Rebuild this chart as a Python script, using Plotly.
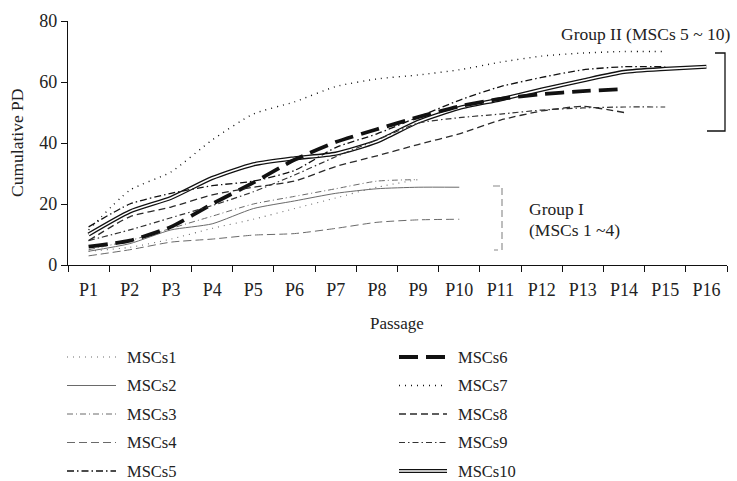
import plotly.graph_objects as go

# ---------------- data ----------------
passages = ["P1", "P2", "P3", "P4", "P5", "P6", "P7", "P8", "P9", "P10",
            "P11", "P12", "P13", "P14", "P15", "P16"]

msc1 = [4.5, 5.8, 8.5, 12, 15, 18.5, 22, 25.5, 28]
msc2 = [4.5, 7, 11.5, 13.5, 18.5, 21, 23.5, 25, 25.5, 25.5]
msc3 = [5, 8, 12, 16, 20, 22.5, 25, 27.5, 28]
msc4 = [3, 5, 7.5, 8.5, 9.8, 10.3, 12, 14, 14.8, 15]
msc5 = [12.5, 20, 23.5, 26, 27.5, 31, 38.5, 43, 48.5, 54, 58.5, 61.5, 64, 65, 65]
msc6 = [6, 8, 12.5, 20, 27, 34.5, 40.3, 44.5, 48.5, 52, 54.5, 56, 57, 57.7]
msc7 = [11.5, 24.5, 30.5, 41, 49.5, 53.5, 58.5, 61, 62.3, 64, 66.5, 68.5, 69.5, 70, 70]
msc8 = [8, 15.8, 19, 23, 25.5, 27.5, 32.3, 35.8, 39.5, 43, 47.5, 50.5, 52, 50]
msc9 = [8, 11.5, 15.5, 19.5, 24, 29.5, 35.5, 41, 46.5, 48.3, 49.5, 50.8, 51.5, 51.8, 51.8]
msc10 = [10, 17.5, 22, 28.5, 33, 35, 36.5, 40.5, 47, 51.5, 54.3, 57.5, 60.5, 63.3, 64.3, 65]

y_ticks = [0, 20, 40, 60, 80]

FONT = "Liberation Serif"
GRAY = "#6a6a6a"
BLACK = "#111111"
TXT = "#222222"

# style per series: (name, values, color, width, dash)
styles = [
    ("MSCs1", msc1, GRAY, 1.1, "1px,5px"),
    ("MSCs2", msc2, GRAY, 1.0, "solid"),
    ("MSCs3", msc3, GRAY, 1.0, "6px,3px,1px,3px"),
    ("MSCs4", msc4, GRAY, 1.0, "8px,4px"),
    ("MSCs5", msc5, BLACK, 1.3, "7px,3px,1.5px,3px"),
    ("MSCs6", msc6, BLACK, 3.8, "19px,8px"),
    ("MSCs7", msc7, BLACK, 1.4, "1px,5px"),
    ("MSCs8", msc8, "#2a2a2a", 1.3, "7px,4px"),
    ("MSCs9", msc9, "#333333", 1.2, "6px,3px,1.5px,3px"),
]

fig = go.Figure()

# group I
for name, vals, col, w, dash in styles[:4]:
    fig.add_trace(go.Scatter(x=passages[:len(vals)], y=vals, mode="lines", name=name,
                             line=dict(color=col, width=w, dash=dash, shape="spline", smoothing=0.6),
                             showlegend=False, hoverinfo="skip"))

# MSCs10 double line (black wide + white core)
fig.add_trace(go.Scatter(x=passages[:len(msc10)], y=msc10, mode="lines", name="MSCs10",
                         line=dict(color=BLACK, width=4.2, shape="spline", smoothing=0.6),
                         showlegend=False, hoverinfo="skip"))
fig.add_trace(go.Scatter(x=passages[:len(msc10)], y=msc10, mode="lines", name="MSCs10 core",
                         line=dict(color="white", width=1.6, shape="spline", smoothing=0.6),
                         showlegend=False, hoverinfo="skip"))

# group II
for name, vals, col, w, dash in styles[4:]:
    fig.add_trace(go.Scatter(x=passages[:len(vals)], y=vals, mode="lines", name=name,
                             line=dict(color=col, width=w, dash=dash, shape="spline", smoothing=0.6),
                             showlegend=False, hoverinfo="skip"))

# ---------------- layout helpers (pixel -> paper) ----------------
L, R, T, B = 68, 727, 21, 265
def px(x):
    return (x - L) / (R - L)
def py(y):
    return (B - y) / (B - T)

shapes = []
annotations = []

# legend built from shapes + text
left_rows = ["MSCs1", "MSCs2", "MSCs3", "MSCs4", "MSCs5"]
right_rows = ["MSCs6", "MSCs7", "MSCs8", "MSCs9", "MSCs10"]
row_y = [357, 385.5, 414, 442.5, 471]
style_map = {s[0]: s for s in styles}

def legend_item(name, x0, x1, xt, y):
    if name == "MSCs10":
        shapes.append(dict(type="line", xref="paper", yref="paper", x0=px(x0), x1=px(x1),
                           y0=py(y), y1=py(y), line=dict(color=BLACK, width=4.2)))
        shapes.append(dict(type="line", xref="paper", yref="paper", x0=px(x0), x1=px(x1),
                           y0=py(y), y1=py(y), line=dict(color="white", width=1.6)))
    else:
        _, _, col, w, dash = style_map[name]
        shapes.append(dict(type="line", xref="paper", yref="paper", x0=px(x0), x1=px(x1),
                           y0=py(y), y1=py(y), line=dict(color=col, width=w, dash=dash)))
    annotations.append(dict(text=name, xref="paper", yref="paper", x=px(xt), y=py(y),
                            xanchor="left", yanchor="middle", showarrow=False,
                            font=dict(family=FONT, size=16.5, color=TXT)))

for n, y in zip(left_rows, row_y):
    legend_item(n, 67, 116, 125, y)
for n, y in zip(right_rows, row_y):
    legend_item(n, 399, 447, 456, y)

# group brackets
shapes.append(dict(type="path", xref="paper", yref="paper",
                   path=f"M{px(715)},{py(53)} L{px(725)},{py(53)} L{px(725)},{py(131)} L{px(707)},{py(131)}",
                   line=dict(color=BLACK, width=1.3)))
shapes.append(dict(type="path", xref="paper", yref="paper",
                   path=f"M{px(493)},{py(186)} L{px(502)},{py(186)} L{px(502)},{py(250)} L{px(494)},{py(250)}",
                   line=dict(color="#888", width=1.1, dash="7px,4px")))

# group texts
annotations.append(dict(text="Group II (MSCs 5 ~ 10)", xref="paper", yref="paper", x=px(646), y=py(34),
                        xanchor="center", yanchor="middle", showarrow=False,
                        font=dict(family=FONT, size=17.5, color=TXT)))
annotations.append(dict(text="Group I", xref="paper", yref="paper", x=px(527), y=py(209),
                        xanchor="left", yanchor="middle", showarrow=False,
                        font=dict(family=FONT, size=17.5, color=TXT)))
annotations.append(dict(text="(MSCs 1 ~4)", xref="paper", yref="paper", x=px(527), y=py(230),
                        xanchor="left", yanchor="middle", showarrow=False,
                        font=dict(family=FONT, size=17.5, color=TXT)))

# axis titles
annotations.append(dict(text="Cumulative PD", xref="paper", yref="paper", x=px(17), y=py(143),
                        xanchor="center", yanchor="middle", textangle=-90, showarrow=False,
                        font=dict(family=FONT, size=17.5, color=TXT)))
annotations.append(dict(text="Passage", xref="paper", yref="paper", x=px(397), y=py(323),
                        xanchor="center", yanchor="middle", showarrow=False,
                        font=dict(family=FONT, size=17, color=TXT)))

fig.update_layout(
    width=737, height=481,
    margin=dict(l=L, r=737 - R, t=T, b=481 - B, pad=0),
    paper_bgcolor="white", plot_bgcolor="white",
    showlegend=False,
    shapes=shapes, annotations=annotations,
    font=dict(family=FONT, size=17, color=TXT),
    xaxis=dict(type="category", categoryorder="array", categoryarray=passages,
               tickvals=passages, range=[-0.5, 15.5], tickson="boundaries",
               ticks="outside", ticklen=6, tickwidth=1.2, tickcolor=BLACK,
               ticklabelstandoff=8,
               showline=True, linecolor=BLACK, linewidth=1.3, showgrid=False, zeroline=False,
               tickfont=dict(family=FONT, size=18, color=TXT), fixedrange=True),
    yaxis=dict(range=[0, 80], tickvals=y_ticks, ticks="outside", ticklen=6, tickwidth=1.2,
               tickcolor=BLACK, showline=True, linecolor=BLACK, linewidth=1.3,
               showgrid=False, zeroline=False,
               tickfont=dict(family=FONT, size=18, color=TXT), fixedrange=True),
)

fig.write_html("out.html")
